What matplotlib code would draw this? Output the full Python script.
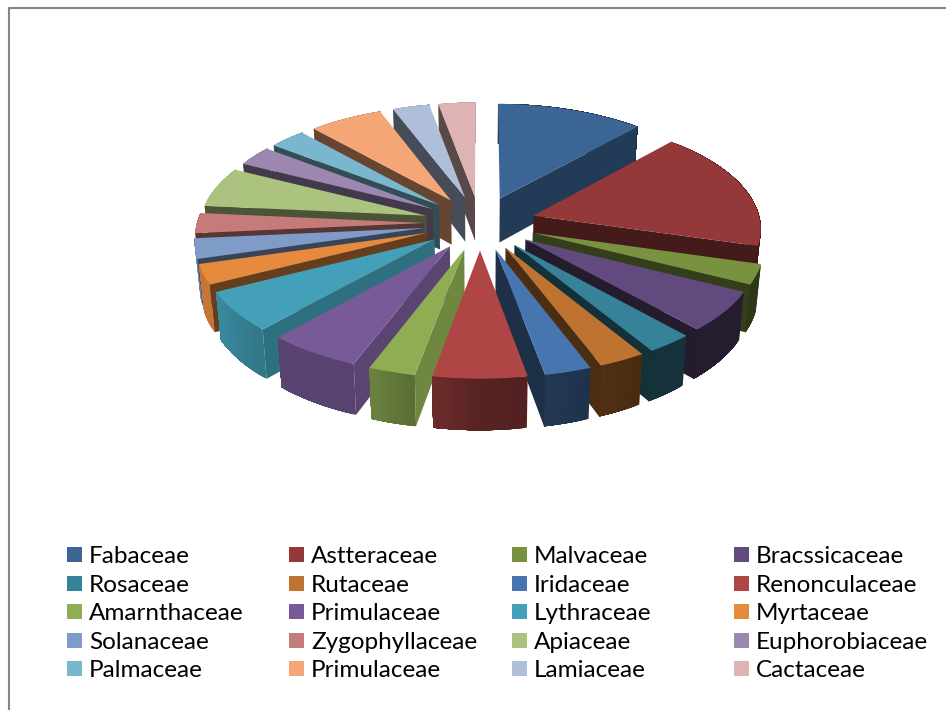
import numpy as np
import matplotlib
matplotlib.use('Agg')
import matplotlib.pyplot as plt
from matplotlib.patches import Polygon, Rectangle

families = ['Fabaceae', 'Astteraceae', 'Malvaceae', 'Bracssicaceae',
            'Rosaceae', 'Rutaceae', 'Iridaceae', 'Renonculaceae',
            'Amarnthaceae', 'Primulaceae', 'Lythraceae', 'Myrtaceae',
            'Solanaceae', 'Zygophyllaceae', 'Apiaceae', 'Euphorobiaceae',
            'Palmaceae', 'Primulaceae', 'Lamiaceae', 'Cactaceae']
counts = [4, 6, 1, 2, 1, 1, 1, 2, 1, 2, 2, 1, 1, 1, 2, 1, 1, 2, 1, 1]
colors = ['#3A6595', '#95383A', '#78923F', '#634A7E',
          '#368399', '#BE7430', '#4675B0', '#AF4545',
          '#8FAE53', '#775A97', '#43A0B8', '#E68A3E',
          '#7F9BC7', '#C67B7B', '#ABC37F', '#9C87B0',
          '#78B7CD', '#F5A676', '#B0BFD9', '#DEB3B3']

# pie geometry in pixels
cx, cy = 480, 223
radius = 227
explode = 56
tilt = 0.48
persp = 0.00045
thick = 45
bottom_shrink = 0.982

# how much each kind of side face is darkened, by angle around the pie
rim_angles = [100, 150, 165, 180, 190, 200, 225, 240, 265, 280]
rim_shade = [.38, .38, .46, .50, .62, .74, .75, .85, .87, .87]
cut_angles = [42, 106, 137, 169, 190, 222, 235, 243, 349]
cut_shade = [.58, .46, .36, .40, .78, .70, .60, .45, .40]


def project(x, y, down=False):
    # x to the right, y going away from the viewer
    s = 1 / (1 + persp * y)
    px = x * s
    py = cy - tilt * y * s
    if down:
        px = px * bottom_shrink
        py = py + thick * s
    return cx + px, py


def darker(color, k):
    rgb = np.array(matplotlib.colors.to_rgb(color))
    return tuple(rgb * k)


def add_face(ax, xs, ys, color, order):
    pts = np.column_stack([xs, ys])
    ax.add_patch(Polygon(pts, closed=True, facecolor=color, edgecolor='none',
                         linewidth=0, zorder=order))


fig = plt.figure(figsize=(9.46, 7.10), dpi=100)
ax = fig.add_axes([0, 0, 1, 1])
ax.set_xlim(0, 946)
ax.set_ylim(710, 0)
ax.axis('off')

ax.plot([9, 9, 946], [710, 7.5, 7.5], color='#868686', lw=1.5, zorder=0)

edges = np.cumsum([0] + counts) / sum(counts) * 360
mids = (edges[:-1] + edges[1:]) / 2

# back slices first so the front ones paint over them
draw_order = np.argsort(-np.cos(np.radians(mids)))

for rank, i in enumerate(draw_order):
    a0, a1, mid = edges[i], edges[i + 1], mids[i]
    ox = explode * np.sin(np.radians(mid))
    oy = explode * np.cos(np.radians(mid))
    theta = np.radians(np.linspace(a0, a1, max(int(a1 - a0) * 2, 2) + 1))
    ex = ox + radius * np.sin(theta)
    ey = oy + radius * np.cos(theta)
    base = 10 + rank * 5

    # outer rim, each strip runs to the far end so no seams show between them
    for j in range(len(theta) - 1):
        tx, ty = project(ex[j:], ey[j:])
        bx, by = project(ex[j:], ey[j:], down=True)
        deg = np.degrees((theta[j] + theta[j + 1]) / 2)
        k = np.interp(deg, rim_angles, rim_shade)
        add_face(ax, np.r_[tx, bx[::-1]], np.r_[ty, by[::-1]],
                 darker(colors[i], k), base)

    # the one cut face that can be seen
    if np.sin(np.radians(a0)) < -1e-6:
        ang, k_x, k_y = a0, ex[0], ey[0]
    elif np.sin(np.radians(a1)) > 1e-6:
        ang, k_x, k_y = a1, ex[-1], ey[-1]
    else:
        ang = None
    if ang is not None:
        tx, ty = project(np.array([ox, k_x]), np.array([oy, k_y]))
        bx, by = project(np.array([ox, k_x]), np.array([oy, k_y]), down=True)
        k = np.interp(ang, cut_angles, cut_shade)
        add_face(ax, np.r_[tx, bx[::-1]], np.r_[ty, by[::-1]],
                 darker(colors[i], k), base + 1)

    # top of the slice
    tx, ty = project(np.r_[ox, ex], np.r_[oy, ey])
    add_face(ax, tx, ty, colors[i], base + 2)

# legend, filled row by row
col_x = [67, 289, 512, 734]
row_y = [554.5, 583.5, 611.5, 640.5, 668.5]
for i, name in enumerate(families):
    x = col_x[i % 4]
    y = row_y[i // 4]
    ax.add_patch(Rectangle((x, y - 7.5), 15, 15, facecolor=colors[i], edgecolor='none', zorder=200))
    ax.text(x + 22, y, name, fontsize=17.5, family=['Lato', 'DejaVu Sans'], color='black',
            va='center_baseline', ha='left', zorder=200)

fig.savefig('out.png', dpi=100)
